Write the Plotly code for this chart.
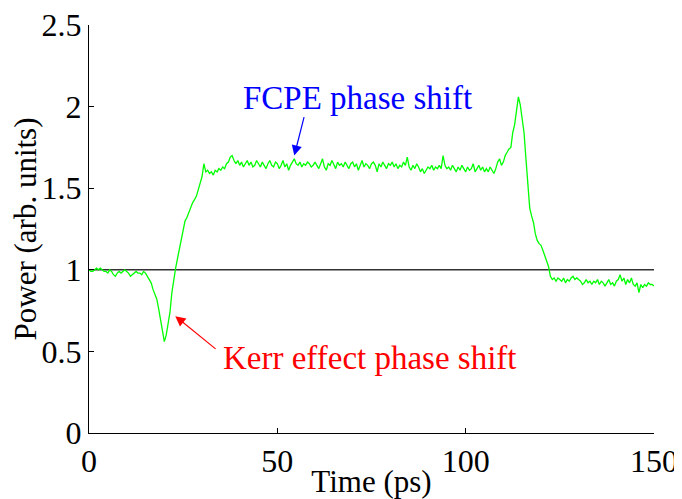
import numpy as np
import plotly.graph_objects as go

# time grid of the measurement (ps), one sample every 0.5 ps
time_ps = np.arange(0, 150.5, 0.5)

# power trace
baseline = [1.00, 0.99, 0.99, 1.00, 1.01, 1.00, 1.01, 1.00, 0.99, 0.99,
            0.98, 1.00, 0.99, 0.97, 0.96, 0.98, 0.99, 0.98, 0.99, 1.00,
            0.99, 0.98, 0.96, 0.97, 0.98, 0.99, 0.98, 0.98, 0.97, 0.99,
            0.98]
kerr_dip = [0.96, 0.94, 0.92, 0.88, 0.85, 0.82, 0.76, 0.69, 0.62, 0.56,
            0.60, 0.66, 0.74, 0.86, 0.95, 1.01, 1.07, 1.13, 1.20, 1.25,
            1.30, 1.32, 1.35, 1.39, 1.41, 1.43, 1.45, 1.49, 1.54, 1.57,
            1.65, 1.60, 1.61, 1.59, 1.60, 1.58, 1.61, 1.60, 1.62, 1.61,
            1.63, 1.62, 1.65, 1.66, 1.69, 1.70, 1.67, 1.65, 1.67, 1.64]
plateau = [1.66, 1.63, 1.65, 1.67, 1.64, 1.66, 1.63, 1.64, 1.67, 1.65,
           1.63, 1.66, 1.64, 1.62, 1.65, 1.67, 1.64, 1.63, 1.66, 1.65,
           1.62, 1.64, 1.67, 1.63, 1.65, 1.61, 1.64, 1.66, 1.68, 1.65,
           1.64, 1.66, 1.63, 1.65, 1.64, 1.66, 1.65, 1.63, 1.64, 1.66,
           1.64, 1.62, 1.65, 1.68, 1.63, 1.61, 1.65, 1.64, 1.67, 1.64,
           1.62, 1.66, 1.64, 1.65, 1.63, 1.66, 1.64, 1.62, 1.65, 1.66,
           1.63, 1.65, 1.61, 1.64, 1.67, 1.63, 1.65, 1.64, 1.62, 1.65,
           1.66, 1.64, 1.60, 1.65, 1.63, 1.66, 1.64, 1.62, 1.65, 1.64,
           1.66, 1.63, 1.65, 1.62, 1.64, 1.63, 1.66, 1.64, 1.69, 1.63,
           1.61, 1.64, 1.62, 1.65, 1.63, 1.60, 1.62, 1.59, 1.61, 1.63,
           1.62, 1.64, 1.61, 1.63, 1.62, 1.64, 1.62, 1.70, 1.64, 1.62,
           1.63, 1.61, 1.64, 1.62, 1.60, 1.63, 1.61, 1.64, 1.62, 1.60,
           1.63, 1.61, 1.62, 1.65, 1.60, 1.62, 1.64, 1.61, 1.63, 1.60,
           1.62, 1.60, 1.63, 1.61, 1.59, 1.62]
fcpe_peak = [1.66, 1.68, 1.64, 1.66, 1.70, 1.72, 1.74, 1.75, 1.84, 1.89,
             1.97, 2.06, 2.01, 1.93, 1.84, 1.68, 1.50, 1.38, 1.33, 1.29,
             1.22, 1.18, 1.16, 1.15, 1.12, 1.09, 1.06, 1.02, 0.96, 0.94,
             0.95, 0.93, 0.95, 0.94]
tail = [0.93, 0.95, 0.92, 0.94, 0.93, 0.95, 0.96, 0.94, 0.95, 0.94,
        0.93, 0.91, 0.92, 0.94, 0.92, 0.93, 0.91, 0.93, 0.92, 0.94,
        0.91, 0.93, 0.92, 0.90, 0.92, 0.94, 0.91, 0.92, 0.90, 0.93,
        0.94, 0.97, 0.93, 0.95, 0.91, 0.94, 0.92, 0.95, 0.91, 0.90,
        0.92, 0.86, 0.91, 0.89, 0.91, 0.90, 0.92, 0.91, 0.91, 0.90]

power = baseline + kerr_dip + plateau + fcpe_peak + tail

# reference level (input power)
ref_x = [0, 150]
ref_y = [1, 1]

FONT = "Liberation Serif"

fig = go.Figure()
fig.add_trace(go.Scatter(x=ref_x, y=ref_y, mode="lines",
                         line=dict(color="#333333", width=1.4)))
fig.add_trace(go.Scatter(x=time_ps, y=power, mode="lines",
                         line=dict(color="#00ff00", width=1.3)))

# labels with arrows
fig.add_annotation(x=54.5, y=1.70, ax=57.2, ay=1.945, axref="x", ayref="y",
                   text="", showarrow=True, arrowhead=2, arrowsize=1.7,
                   arrowwidth=1.2, arrowcolor="#0000ff")
fig.add_annotation(x=71.3, y=2.05, text="FCPE phase shift", showarrow=False,
                   font=dict(family=FONT, size=33, color="#0000ff"))
fig.add_annotation(x=22.9, y=0.716, ax=34.0, ay=0.508, axref="x", ayref="y",
                   text="", showarrow=True, arrowhead=2, arrowsize=1.7,
                   arrowwidth=1.2, arrowcolor="#ff0000")
fig.add_annotation(x=74.5, y=0.459, text="Kerr effect phase shift", showarrow=False,
                   font=dict(family=FONT, size=33, color="#ff0000"))

# the page body adds an 8px margin on the left/top, so the figure is 8px smaller
fig.update_layout(
    width=674, height=491,
    margin=dict(l=81, r=28, t=17, b=66),
    paper_bgcolor="white", plot_bgcolor="white",
    showlegend=False,
    font=dict(family=FONT, size=32, color="black"),
)
fig.update_xaxes(range=[0, 150], tickvals=[0, 50, 100, 150],
                 showline=True, linecolor="black", linewidth=1,
                 ticks="inside", ticklen=5, tickcolor="black",
                 showgrid=False, zeroline=False, automargin=False,
                 ticklabeloverflow="allow",
                 tickfont=dict(size=32),
                 title=dict(text="Time (ps)", standoff=4, font=dict(size=31)))
fig.update_yaxes(range=[0, 2.5], tickvals=[0, 0.5, 1, 1.5, 2, 2.5],
                 ticktext=["0", "0.5", "1", "1.5", "2", "2.5"],
                 showline=True, linecolor="black", linewidth=1,
                 ticks="inside", ticklen=5, tickcolor="black",
                 showgrid=False, zeroline=False, automargin=False,
                 ticklabeloverflow="allow",
                 tickfont=dict(size=32),
                 title=dict(text="Power (arb. units)", standoff=2, font=dict(size=31)))

fig.write_html("out.html")
